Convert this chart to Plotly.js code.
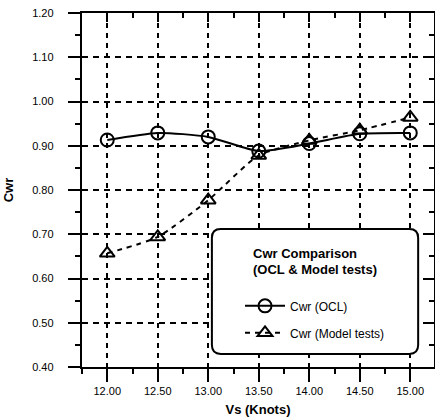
<!DOCTYPE html>
<html>
<head>
<meta charset="utf-8">
<script src="https://cdn.plot.ly/plotly-3.0.1.min.js"></script>
<style>html,body{margin:0;padding:0;background:#fff;}#chart{width:435px;height:417px;}</style>
</head>
<body>
<div id="chart"></div>
<script>
const speeds = [12.0, 12.5, 13.0, 13.5, 14.0, 14.5, 15.0];
const cwrOCL = [0.913, 0.929, 0.920, 0.888, 0.905, 0.927, 0.929];
const cwrModel = [0.657, 0.694, 0.777, 0.878, 0.912, 0.935, 0.964];
const seriesNames = ['Cwr (OCL)', 'Cwr (Model tests)'];
const legendTitle = 'Cwr Comparison<br>(OCL &amp; Model tests)<br> ';
const xTitle = 'Vs (Knots)';
const yTitle = 'Cwr';

const FONT = 'Liberation Sans, Arial, sans-serif';

const traces = [
  {
    x: speeds, y: cwrOCL, name: seriesNames[0], type: 'scatter', mode: 'lines+markers',
    line: {color: '#000', width: 2, shape: 'spline', smoothing: 0.6},
    marker: {symbol: 'circle-open', size: 13, color: '#000', line: {width: 2, color: '#000'}},
    legendgroup: 'a'
  },
  {
    x: speeds, y: cwrModel, name: seriesNames[1], type: 'scatter', mode: 'lines+markers',
    line: {color: '#000', width: 2, dash: '5px,5px', shape: 'spline', smoothing: 0.6},
    marker: {symbol: 'triangle-up-open', size: 13, color: '#000', line: {width: 2, color: '#000'}},
    legendgroup: 'b'
  },
  // empty helper trace so the mirrored top/right axes are fully built
  {x: [], y: [], xaxis: 'x2', yaxis: 'y2', type: 'scatter', mode: 'none', showlegend: false, hoverinfo: 'skip'}
];

// rounded legend box in paper coordinates
const bx0 = 0.369, bx1 = 0.955, by0 = 0.037, by1 = 0.390, rx = 0.025, ry = 0.025;
const boxPath = `M${bx0+rx},${by0} L${bx1-rx},${by0} Q${bx1},${by0} ${bx1},${by0+ry} L${bx1},${by1-ry} Q${bx1},${by1} ${bx1-rx},${by1} L${bx0+rx},${by1} Q${bx0},${by1} ${bx0},${by1-ry} L${bx0},${by0+ry} Q${bx0},${by0} ${bx0+rx},${by0} Z`;

const xr = [11.75, 15.235];
const yr = [0.40, 1.20];
const SP = '\u2007\u2007';

const layout = {
  width: 435, height: 417,
  margin: {l: 82, r: 1, t: 13, b: 50},
  font: {family: FONT, color: '#000', size: 11},
  showlegend: true,
  xaxis: {
    range: xr, tick0: 12, dtick: 0.5, tickformat: '.2f',
    ticks: 'outside', ticklen: 13, tickwidth: 2, tickcolor: '#000',
    showline: true, linewidth: 2, linecolor: '#000',
    showgrid: true, gridcolor: '#000', gridwidth: 2, griddash: '5px,5px',
    zeroline: false,
    minor: {dtick: 0.25, ticks: 'outside', ticklen: 5, tickwidth: 2, tickcolor: '#000'},
    title: {text: '<b>' + xTitle + '</b>', standoff: 10}
  },
  xaxis2: {
    range: xr, overlaying: 'x', side: 'top', anchor: 'y2', tick0: 12, dtick: 0.5,
    ticks: 'inside', ticklen: 9, tickwidth: 2, tickcolor: '#000',
    showline: true, linewidth: 2, linecolor: '#000', showgrid: false, zeroline: false,
    showticklabels: false,
    minor: {dtick: 0.25, ticks: 'inside', ticklen: 5, tickwidth: 2, tickcolor: '#000'}
  },
  yaxis: {
    range: yr, tick0: 0.4, dtick: 0.1, tickformat: '.2f', ticksuffix: SP,
    ticks: 'outside', ticklen: 12, tickwidth: 2, tickcolor: '#000',
    showline: true, linewidth: 2, linecolor: '#000',
    showgrid: true, gridcolor: '#000', gridwidth: 2, griddash: '6px,5px',
    zeroline: false,
    minor: {dtick: 0.05, ticks: 'outside', ticklen: 5, tickwidth: 2, tickcolor: '#000'},
    title: {text: '<b>' + yTitle + '</b>', standoff: 16}
  },
  yaxis2: {
    range: yr, overlaying: 'y', side: 'right', anchor: 'x2', tick0: 0.4, dtick: 0.1,
    ticks: 'inside', ticklen: 8, tickwidth: 2, tickcolor: '#000',
    showline: true, linewidth: 2, linecolor: '#000', showgrid: false, zeroline: false,
    showticklabels: false,
    minor: {dtick: 0.05, ticks: 'inside', ticklen: 5, tickwidth: 2, tickcolor: '#000'}
  },
  shapes: [
    {type: 'path', xref: 'paper', yref: 'paper', path: boxPath, fillcolor: '#fff', line: {color: '#000', width: 2}, layer: 'above'}
  ],
  legend: {
    x: 0.662, xanchor: 'center', y: 0.357, yanchor: 'top',
    bgcolor: 'rgba(0,0,0,0)', borderwidth: 0,
    font: {family: FONT, size: 12, color: '#000'},
    title: {text: '<b>' + legendTitle + '</b>', side: 'top center', font: {family: FONT, size: 13, color: '#000'}},
    traceorder: 'grouped', tracegroupgap: 8, itemwidth: 40
  }
};

Plotly.newPlot('chart', traces, layout, {displayModeBar: false, staticPlot: true});
</script>
</body>
</html>
